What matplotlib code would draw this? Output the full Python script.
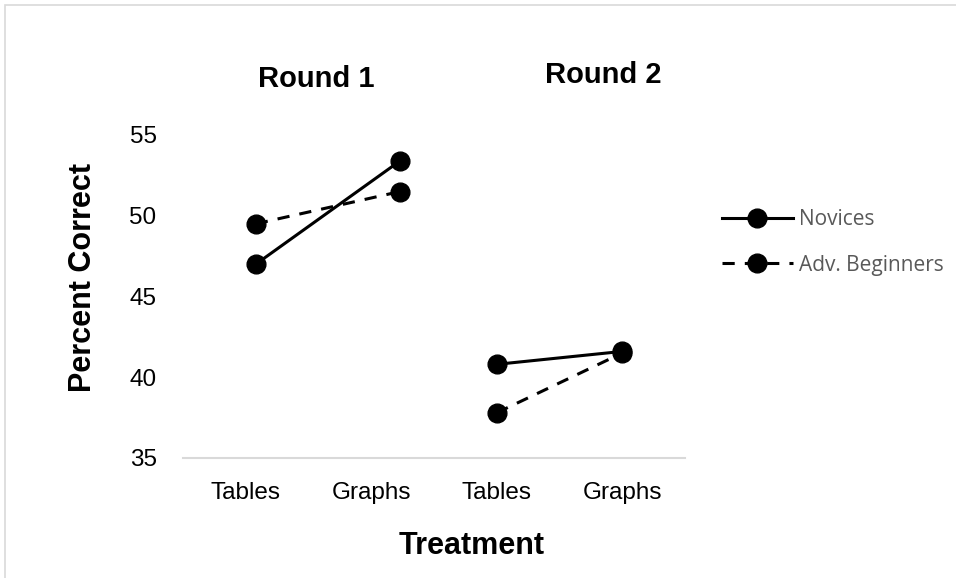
import matplotlib
matplotlib.use('Agg')
import matplotlib.pyplot as plt
from matplotlib.patches import Rectangle
from matplotlib.lines import Line2D

plt.rcParams['font.family'] = ['Liberation Sans', 'DejaVu Sans']

categories = ['Tables', 'Graphs', 'Tables', 'Graphs']
rounds = ['Round 1', 'Round 2']
series = ['Novices', 'Adv. Beginners']

novices_r1 = [47.0, 53.4]
novices_r2 = [40.8, 41.6]
adv_r1 = [49.5, 51.5]
adv_r2 = [37.8, 41.5]

# round 1 points sit a little right of their category slots in the original
r1_x = [0.08, 1.23]
r2_x = [2, 3]

fig = plt.figure(figsize=(9.56, 5.78), dpi=100)
fig.patches.append(Rectangle((5 / 956, -0.1), 1.2, 1 - 5 / 578 + 0.1,
                             transform=fig.transFigure, fill=False,
                             edgecolor='#d9d9d9', linewidth=1.2))

ax = fig.add_axes([183 / 956, 1 - 458 / 578, 502 / 956, 323 / 578])

line_kw = dict(color='black', linewidth=2.2, marker='o', markersize=13.5,
               clip_on=False, zorder=3)
dash_kw = dict(line_kw, linestyle=(0, (4, 3.3)))

ax.plot(r1_x, novices_r1, **line_kw)
ax.plot(r2_x, novices_r2, **line_kw)
ax.plot(r1_x, adv_r1, **dash_kw)
ax.plot(r2_x, adv_r2, **dash_kw)

ax.set_xlim(-0.5, 3.5)
ax.set_ylim(35, 55)
ax.set_yticks([35, 40, 45, 50, 55])
ax.set_xticks(range(len(categories)))
ax.set_xticklabels(categories)
ax.tick_params(axis='both', length=0, labelsize=17.5, colors='black')
ax.tick_params(axis='y', pad=19)
ax.tick_params(axis='x', pad=17)

for side in ['top', 'right', 'left']:
    ax.spines[side].set_visible(False)
ax.spines['bottom'].set_color('#d9d9d9')
ax.spines['bottom'].set_linewidth(1.5)

ax.set_ylabel('Percent Correct', fontsize=22, fontweight='bold')
ax.yaxis.set_label_coords((98 - 183) / 502, (458 - 277) / 323)
ax.set_xlabel('Treatment', fontsize=22, fontweight='bold')
ax.xaxis.set_label_coords((472 - 183) / 502, (458 - 531) / 323)

fig.text(316 / 956, 1 - 79 / 578, rounds[0], fontsize=21, fontweight='bold',
         ha='center', va='center')
fig.text(603 / 956, 1 - 75 / 578, rounds[1], fontsize=21, fontweight='bold',
         ha='center', va='center')

handles = [
    Line2D([], [], color='black', linewidth=2.2, marker='o', markersize=13.5),
    Line2D([], [], color='black', linewidth=2.2, marker='o', markersize=13.5,
           linestyle=(0, (4, 3.3))),
]
leg = fig.legend(handles, series, loc='center left',
                 bbox_to_anchor=(722 / 956, 1 - 242.5 / 578),
                 frameon=False, borderpad=0, borderaxespad=0,
                 handlelength=3.4, handletextpad=0.3, labelspacing=1.17,
                 prop={'family': ['Open Sans', 'DejaVu Sans'], 'size': 15})
for t in leg.get_texts():
    t.set_color('#595959')

fig.savefig('out.png', dpi=100)
